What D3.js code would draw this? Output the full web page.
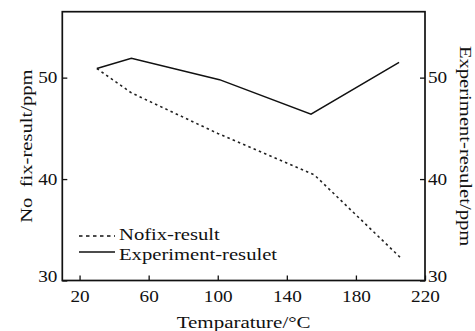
<!DOCTYPE html>
<html lang="en">
<head>
<meta charset="utf-8">
<title>Temperature vs result</title>
<script src="https://cdn.jsdelivr.net/npm/d3@7"></script>
<style>
  body { margin: 0; background: #fff; }
  text { font-family: "Liberation Serif", "Times New Roman", serif; fill: #111; }
</style>
</head>
<body>
<script>
"use strict";

// data
let temps = [30, 50, 101, 154, 205];
let experiment = [50.9, 51.9, 49.8, 46.4, 51.5];
let nofixTemps = [30, 50, 100, 156, 205.5];
let nofix = [50.9, 48.5, 44.5, 40.4, 32.3];
let xTicks = [20, 60, 100, 140, 180, 220];
let yTicks = [30, 40, 50];
let legendNames = ["Nofix-result", "Experiment-resulet"];

let w = 475, h = 331;
let pLeft = 62.3, pRight = 425, pTop = 11.7, pBottom = 280.5;
let sx = 1.2; // glyphs in the picture are wider than normal

let svg = d3.select("body").append("svg")
  .attr("width", w)
  .attr("height", h);

let x = d3.scaleLinear().domain([10, 220]).range([pLeft, pRight]);
let y = d3.scaleLinear().domain([30, 56.5]).range([pBottom, pTop]);

// widen a text by scaling in x, keep its anchor where it was
function stretch(sel) {
  sel.each(function() {
    let t = d3.select(this);
    let x0 = +t.attr("x") || 0;
    t.attr("x", x0 / sx).attr("transform", "scale(" + sx + ",1)");
  });
}

function styleAxis(g) {
  g.select(".domain").remove();
  g.selectAll("line").attr("stroke", "#111").attr("stroke-width", 1.3);
  g.selectAll("text").attr("font-size", 16).attr("fill", "#111")
    .attr("font-family", "Liberation Serif, serif");
}

// bottom axis
let gx = svg.append("g")
  .attr("transform", "translate(0," + pBottom + ")")
  .call(d3.axisBottom(x).tickValues(xTicks).tickSize(-5).tickPadding(10.5).tickSizeOuter(0));
styleAxis(gx);
gx.selectAll("text").call(stretch);

// left axis
let gl = svg.append("g")
  .attr("transform", "translate(" + pLeft + ",0)")
  .call(d3.axisLeft(y).tickValues(yTicks).tickSize(-5).tickPadding(5).tickSizeOuter(0));
styleAxis(gl);
gl.selectAll("text").call(stretch);
gl.selectAll("text").filter(function(d) { return d === 30; }).attr("y", -4);

// right axis
let gr = svg.append("g")
  .attr("transform", "translate(" + pRight + ",0)")
  .call(d3.axisRight(y).tickValues(yTicks).tickSize(-5).tickPadding(3).tickSizeOuter(0));
styleAxis(gr);
gr.selectAll("text").call(stretch);
gr.selectAll("text").filter(function(d) { return d === 30; }).attr("y", -4);

// frame
svg.append("rect")
  .attr("x", pLeft).attr("y", pTop)
  .attr("width", pRight - pLeft).attr("height", pBottom - pTop)
  .attr("fill", "none")
  .attr("stroke", "#111")
  .attr("stroke-width", 1.7);

// lines
let line = d3.line()
  .x(function(d) { return x(d[0]); })
  .y(function(d) { return y(d[1]); });

svg.append("path")
  .datum(d3.zip(nofixTemps, nofix))
  .attr("d", line)
  .attr("fill", "none")
  .attr("stroke", "#222")
  .attr("stroke-width", 1.6)
  .attr("stroke-dasharray", "2.5,3.2");

svg.append("path")
  .datum(d3.zip(temps, experiment))
  .attr("d", line)
  .attr("fill", "none")
  .attr("stroke", "#111")
  .attr("stroke-width", 1.5);

// legend
let lg = svg.append("g");
let legendRows = [
  { y: 236, base: 240, dash: "3.5,3.5" },
  { y: 252, base: 260, dash: null }
];
legendRows.forEach(function(r, i) {
  lg.append("line")
    .attr("x1", 79).attr("x2", 115)
    .attr("y1", r.y).attr("y2", r.y)
    .attr("stroke", "#111")
    .attr("stroke-width", 1.3)
    .attr("stroke-dasharray", r.dash);
  lg.append("text")
    .attr("transform", "translate(119," + r.base + ") scale(" + sx + ",1)")
    .attr("font-size", 17.2)
    .text(legendNames[i]);
});

// axis titles
svg.append("text")
  .attr("transform", "translate(" + ((pLeft + pRight) / 2) + ",328) scale(" + sx + ",1)")
  .attr("text-anchor", "middle")
  .attr("font-size", 17.5)
  .text("Temparature/\u00b0C");

svg.append("text")
  .attr("transform", "translate(32," + ((pTop + pBottom) / 2) + ") rotate(-90) scale(" + sx + ",1)")
  .attr("text-anchor", "middle")
  .attr("font-size", 17.2)
  .style("white-space", "pre")
  .text("No  fix-result/ppm");

svg.append("text")
  .attr("transform", "translate(460," + ((pTop + pBottom) / 2) + ") rotate(90) scale(" + sx + ",1)")
  .attr("text-anchor", "middle")
  .attr("font-size", 17.2)
  .text("Experiment-resulet/ppm");
</script>
</body>
</html>
